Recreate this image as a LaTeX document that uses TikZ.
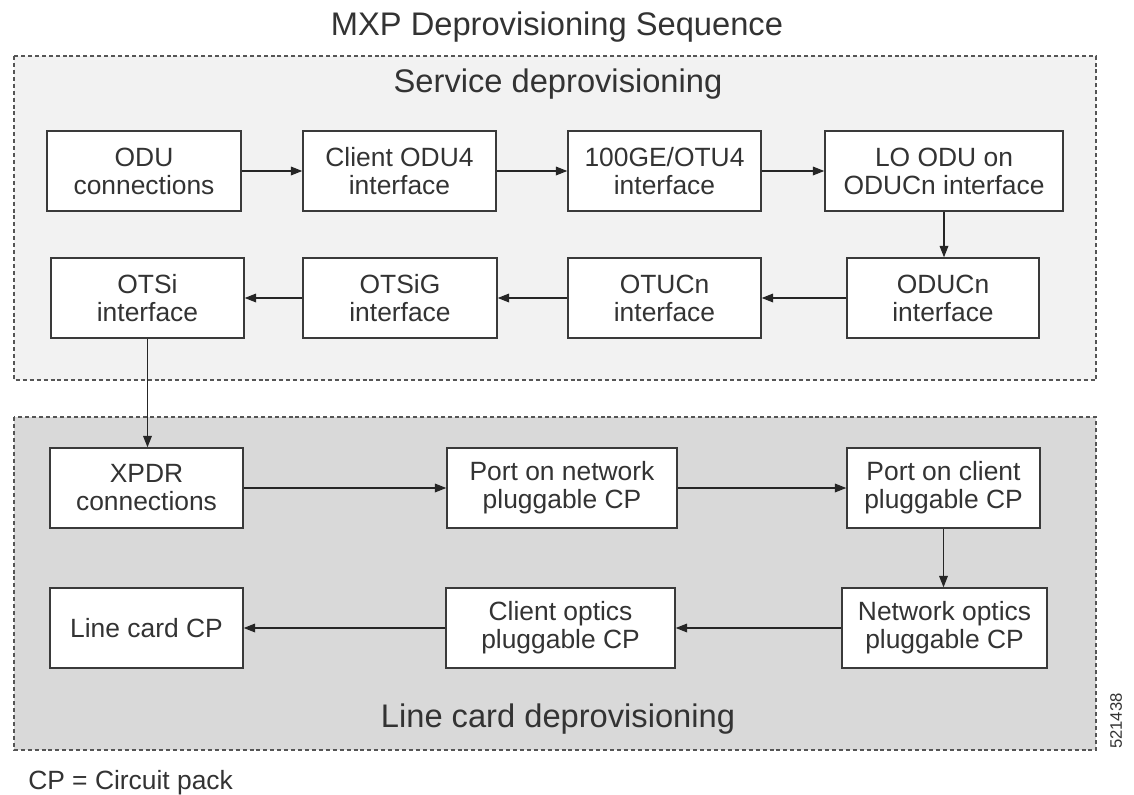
\documentclass[tikz,border=0pt]{standalone}
\usepackage{fontspec}
\setmainfont{Liberation Sans}
\usetikzlibrary{arrows.meta}
\definecolor{txt}{HTML}{333333}
\definecolor{boxline}{HTML}{3A3A3A}
\definecolor{frameline}{HTML}{555555}
\definecolor{topfill}{HTML}{F2F2F2}
\definecolor{botfill}{HTML}{D9D9D9}
\tikzset{
  stepbox/.style={draw=boxline, line width=1.1pt, fill=white, inner sep=0pt,
    minimum height=80*0.75pt, align=center, text=txt,
    font=\fontsize{19.8}{21}\selectfont},
  frame/.style={draw=frameline, line width=0.9pt, dash pattern=on 3pt off 2.2pt},
  arr/.style={draw=black!85, line width=0.9pt, -{Triangle[length=8.5pt,width=6.5pt]}},
  heading/.style={text=txt, font=\fontsize{24.5}{28}\selectfont, inner sep=0pt}
}
\begin{document}
\begin{tikzpicture}[x=0.75pt,y=-0.75pt]
\useasboundingbox (0,0) rectangle (1134,794);
\fill[white] (0,0) rectangle (1134,794);
% frames
\draw[frame, fill=topfill] (14,56) rectangle (1096,380);
\draw[frame, fill=botfill] (14,417) rectangle (1096,750);
% headings
\node[heading, anchor=base] (title) at (557,35) {MXP Deprovisioning Sequence};
\node[heading, anchor=base] (svc) at (558,92) {Service deprovisioning};
\node[heading, anchor=base] (lcd) at (558,727) {Line card deprovisioning};
% row 1
\node[stepbox, minimum width=194*0.75pt] (odu) at (144,171) {ODU\\connections};
\node[stepbox, minimum width=193*0.75pt] (cli) at (399.5,171) {Client ODU4\\interface};
\node[stepbox, minimum width=193*0.75pt] (ge) at (664.5,171) {100GE/OTU4\\interface};
\node[stepbox, minimum width=238*0.75pt] (lo) at (944,171) {LO ODU on\\ODUCn interface};
% row 2
\node[stepbox, minimum width=192*0.75pt] (oducn) at (943,298) {ODUCn\\interface};
\node[stepbox, minimum width=193*0.75pt] (otucn) at (664.5,298) {OTUCn\\interface};
\node[stepbox, minimum width=194*0.75pt] (otsig) at (400,298) {OTSiG\\interface};
\node[stepbox, minimum width=193*0.75pt] (otsi) at (147.5,298) {OTSi\\interface};
% row 3
\node[stepbox, minimum width=193*0.75pt] (xpdr) at (146.5,488) {XPDR\\connections};
\node[stepbox, minimum width=230*0.75pt] (pnet) at (562,488) {Port on network\\pluggable CP};
\node[stepbox, minimum width=193*0.75pt] (pcli) at (943.5,488) {Port on client\\pluggable CP};
% row 4
\node[stepbox, minimum width=205*0.75pt] (netopt) at (944.5,628) {Network optics\\pluggable CP};
\node[stepbox, minimum width=229*0.75pt] (cliopt) at (560.5,628) {Client optics\\pluggable CP};
\node[stepbox, minimum width=193*0.75pt] (lc) at (146.5,628) {Line card CP};
% connectors
\draw[arr] (odu) -- (cli);
\draw[arr] (cli) -- (ge);
\draw[arr] (ge) -- (lo);
\draw[arr] (lo) -- (lo |- oducn.north);
\draw[arr] (oducn) -- (otucn);
\draw[arr] (otucn) -- (otsig);
\draw[arr] (otsig) -- (otsi);
\draw[arr] (otsi) -- (otsi |- xpdr.north);
\draw[arr] (xpdr) -- (pnet);
\draw[arr] (pnet) -- (pcli);
\draw[arr] (pcli) -- (pcli |- netopt.north);
\draw[arr] (netopt) -- (cliopt);
\draw[arr] (cliopt) -- (lc);
% notes
\node[anchor=base west, inner sep=0pt, text=txt, font=\fontsize{19.8}{21}\selectfont] (note) at (28,789) {CP = Circuit pack};
\node[rotate=90, inner sep=0pt, text=txt, font=\fontsize{12.5}{14}\selectfont] (fig) at (1116,721) {521438};
\end{tikzpicture}
\end{document}
